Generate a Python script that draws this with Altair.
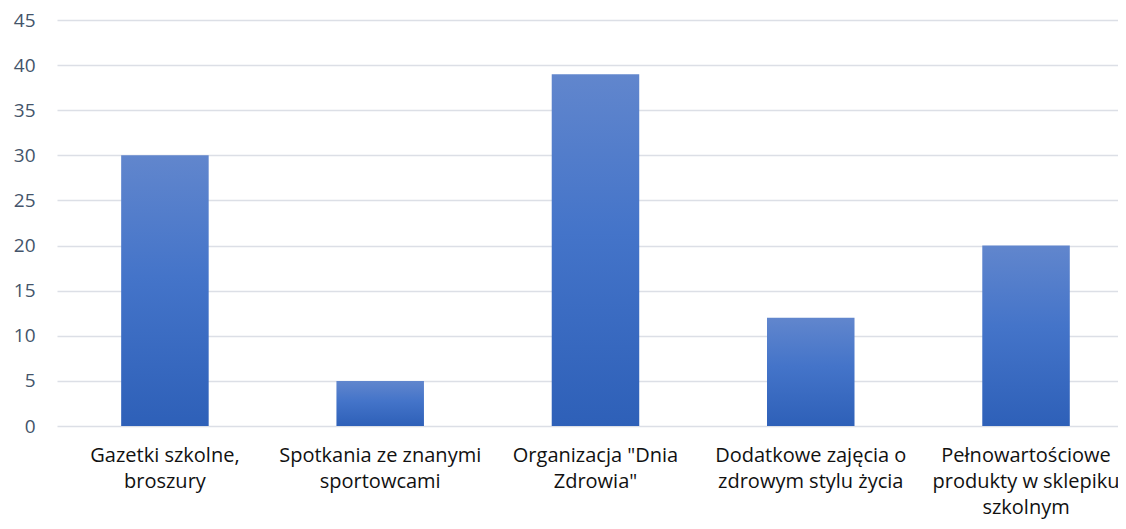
import altair as alt
import pandas as pd

categories = [
    "Gazetki szkolne,\nbroszury",
    "Spotkania ze znanymi\nsportowcami",
    "Organizacja \"Dnia\nZdrowia\"",
    "Dodatkowe zajęcia o\nzdrowym stylu życia",
    "Pełnowartościowe\nprodukty w sklepiku\nszkolnym",
]
values = [30, 5, 39, 12, 20]
y_ticks = [0, 5, 10, 15, 20, 25, 30, 35, 40, 45]

df = pd.DataFrame({"cat": categories, "val": values})

gradient = alt.LinearGradient(
    gradient="linear",
    x1=0, y1=0, x2=0, y2=1,
    stops=[
        alt.GradientStop(color="#6186cd", offset=0),
        alt.GradientStop(color="#4474c9", offset=0.45),
        alt.GradientStop(color="#2e60b8", offset=1),
    ],
)

chart = alt.Chart(df).mark_bar(color=gradient).encode(
    x=alt.X(
        "cat:N",
        sort=categories,
        title=None,
        scale=alt.Scale(paddingInner=0.5935, paddingOuter=0.261, align=0.571),
        axis=alt.Axis(
            labelAngle=0,
            labelExpr="split(datum.label, '\\n')",
            labelFont="Open Sans",
            labelFontSize=20,
            labelColor="#111111",
            labelLineHeight=26,
            labelPadding=19,
            labelBaseline="top",
            labelLimit=0,
            labelOverlap=False,
            domain=False,
            ticks=False,
            grid=False,
        ),
    ),
    y=alt.Y(
        "val:Q",
        title=None,
        scale=alt.Scale(domain=[0, 45], nice=False),
        axis=alt.Axis(
            values=y_ticks,
            labelFont="Open Sans",
            labelFontSize=19,
            labelColor="#44546a",
            labelPadding=22,
            domain=False,
            ticks=False,
            gridColor="#dcdfe6",
            gridWidth=1.5,
        ),
    ),
).properties(
    width=1061,
    height=406,
    autosize=alt.AutoSizeParams(type="none"),
    padding={"left": 49, "top": 12, "right": 0, "bottom": 93},
).configure_view(stroke=None)

chart.save("out.html", embed_options={"renderer": "svg", "actions": False})
